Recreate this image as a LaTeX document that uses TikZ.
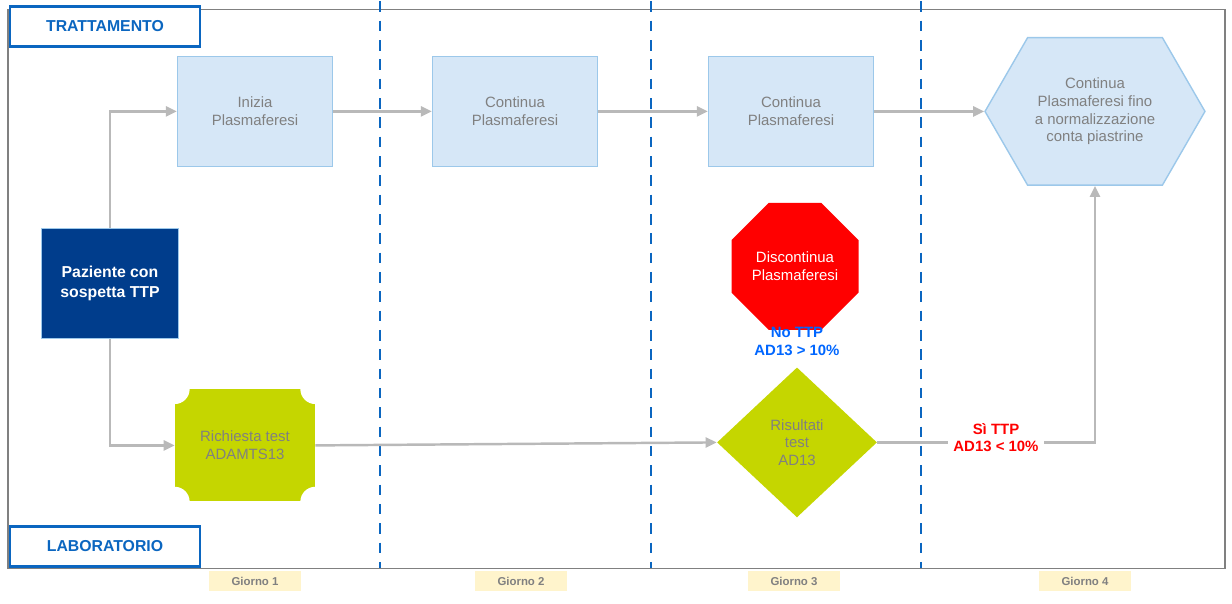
\documentclass[tikz,border=0pt]{standalone}
\usepackage{fontspec}
\setmainfont{Liberation Sans}
\usetikzlibrary{arrows.meta, positioning, shapes.geometric, shapes.symbols}
\definecolor{lightbox}{HTML}{D6E7F7}
\definecolor{lightedge}{HTML}{9CC8EA}
\definecolor{navy}{HTML}{003D8C}
\definecolor{lime}{HTML}{C5D600}
\definecolor{laneblue}{HTML}{0B66C0}
\definecolor{dayfill}{HTML}{FFF4CC}
\begin{document}
\begin{tikzpicture}[
  x=0.02cm, y=-0.02cm,
  >={Triangle[length=2.2mm,width=2mm]},
  font=\fontsize{8.5}{10}\selectfont,
  phase/.style={
    rectangle, draw=lightedge, fill=lightbox, thick,
    align=center, text=gray,
    minimum width=3.2cm, minimum height=2.2cm
  },
  lane/.style={
    rectangle, draw=laneblue, line width=1.6pt, fill=white,
    font=\fontsize{9}{10}\selectfont\bfseries, text=laneblue,
    minimum width=3.8cm, minimum height=0.8cm
  },
  day/.style={
    rectangle, fill=dayfill, text=gray,
    font=\fontsize{6.5}{8}\selectfont\bfseries,
    minimum width=1.85cm, minimum height=0.4cm
  },
  flow/.style={->, draw=gray!55, line width=1.4pt},
  split/.style={draw=laneblue, line width=1.6pt, dash pattern=on 6pt off 5pt},
]

% --- frame and day separators ---
\draw[gray, thick] (8,8) rectangle (1225,567);
\foreach \x in {380,651,921}
  \draw[split] (\x,0) -- (\x,567);
\useasboundingbox (0,0) rectangle (1232,602);

% --- lanes ---
\node[lane] (TRT) at (105,25) {TRATTAMENTO};
\node[lane] (LAB) at (105,545) {LABORATORIO};

% --- day labels ---
\node[day] (G1) at (255,580) {Giorno 1};
\node[day] (G2) at (521,580) {Giorno 2};
\node[day] (G3) at (794,580) {Giorno 3};
\node[day] (G4) at (1085,580) {Giorno 4};

% --- treatment steps ---
\node[phase, minimum width=3.1cm] (INI) at (255,110) {Inizia\\ Plasmaferesi};
\node[phase, minimum width=3.3cm] (CON2) at (515,110) {Continua\\ Plasmaferesi};
\node[phase, minimum width=3.3cm] (CON3) at (791,110) {Continua\\ Plasmaferesi};
\node[signal, signal to=east and west, signal pointer angle=120,
      draw=lightedge, fill=lightbox, thick, text=gray, align=center,
      minimum width=4.4cm, minimum height=2.95cm, inner sep=0pt] (CON4) at (1095,110)
      {Continua\\ Plasmaferesi fino\\ a normalizzazione\\ conta piastrine};

% --- patient ---
\node[rectangle, draw=lightedge, fill=navy, text=white, thick,
      font=\fontsize{9}{11}\selectfont\bfseries, align=center,
      minimum width=2.75cm, minimum height=2.2cm] (PAZ) at (110,282)
      {Paziente con\\ sospetta TTP};

% --- laboratory ---
\node[rectangle, fill=lime, text=gray, align=center,
      minimum width=2.8cm, minimum height=2.24cm] (RIC) at (245,444)
      {Richiesta test\\ ADAMTS13};
\foreach \c in {north west, north east, south west, south east}
  \fill[white] (RIC.\c) circle (0.3cm);
\node[diamond, fill=lime, text=gray, align=center, inner sep=0pt,
      minimum width=3.2cm, minimum height=3.0cm] (RIS) at (797,441)
      {Risultati\\ test\\ AD13};
\node[regular polygon, regular polygon sides=8, fill=red, text=white,
      align=center, minimum size=2.75cm, inner sep=0pt] (STOP) at (795,265)
      {Discontinua\\ Plasmaferesi};

% --- outcome labels ---
\node[text=blue!60!cyan, font=\fontsize{8.5}{10}\selectfont\bfseries, align=center]
  (NO) at (797,340) {No TTP\\ AD13 > 10\%};

% --- arrows ---
\draw[flow] (PAZ.north) |- (INI.west);
\draw[flow] (PAZ.south) |- (RIC.west);
\draw[flow] (INI) -- (CON2);
\draw[flow] (CON2) -- (CON3);
\draw[flow] (CON3.east) -- (CON4.west);
\draw[flow] (RIC.east) -- (RIS.west);
\draw[flow] (RIS.east) -| (CON4.south);
\node[fill=white, text=red, font=\fontsize{8.5}{10}\selectfont\bfseries, align=center]
  (SI) at (996,436) {Sì TTP\\ AD13 < 10\%};

\end{tikzpicture}
\end{document}
